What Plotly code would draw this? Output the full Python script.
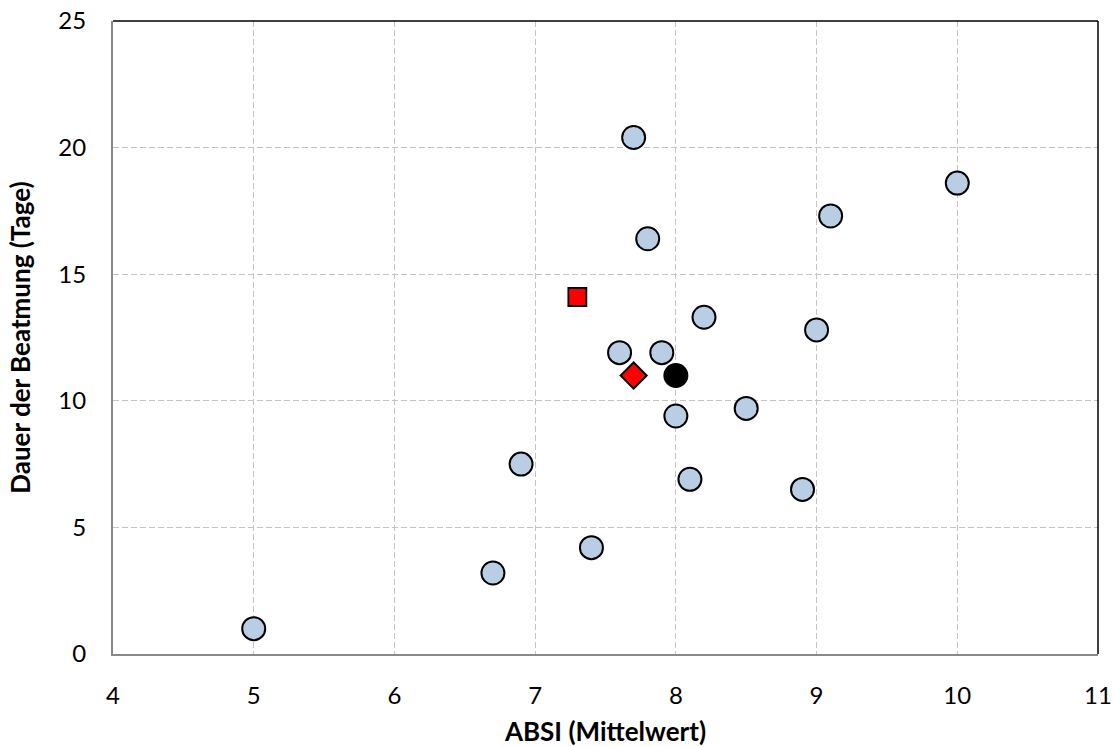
import plotly.graph_objects as go

abs_x = [5.0, 6.7, 6.9, 7.4, 7.6, 7.7, 7.8, 7.9, 8.0, 8.1, 8.2, 8.5, 8.9, 9.0, 9.1, 10.0]
dauer_y = [1.0, 3.2, 7.5, 4.2, 11.9, 20.4, 16.4, 11.9, 9.4, 6.9, 13.3, 9.7, 6.5, 12.8, 17.3, 18.6]
mean_x = [8.0]
mean_y = [11.0]
diamond_x = [7.7]
diamond_y = [11.0]
square_x = [7.3]
square_y = [14.1]

fig = go.Figure()
fig.add_trace(go.Scatter(x=abs_x, y=dauer_y, mode="markers",
    marker=dict(symbol="circle", size=23, color="#b9cde5", line=dict(color="black", width=2))))
fig.add_trace(go.Scatter(x=mean_x, y=mean_y, mode="markers",
    marker=dict(symbol="circle", size=23, color="black", line=dict(color="black", width=2))))
fig.add_trace(go.Scatter(x=diamond_x, y=diamond_y, mode="markers",
    marker=dict(symbol="diamond", size=20, color="red", line=dict(color="black", width=2))))
fig.add_trace(go.Scatter(x=square_x, y=square_y, mode="markers",
    marker=dict(symbol="square", size=18, color="red", line=dict(color="black", width=1.8))))

# top/right black border
fig.add_shape(type="line", xref="paper", yref="paper", x0=0, x1=1, y0=1, y1=1, line=dict(color="black", width=1.5))
fig.add_shape(type="line", xref="paper", yref="paper", x0=1, x1=1, y0=0, y1=1, line=dict(color="black", width=1.5))

fig.update_layout(
    width=1114, height=747,
    margin=dict(l=113, r=16, t=21, b=93),
    plot_bgcolor="white", paper_bgcolor="white",
    showlegend=False,
    font=dict(family="Lato, Carlito, sans-serif", size=24, color="black"),
    xaxis=dict(range=[4, 11], dtick=1, showgrid=True, gridcolor="#c4c4c4", griddash="6px,3px", gridwidth=1,
               showline=True, linecolor="#898989", linewidth=2, zeroline=False, ticks="",
               tickfont=dict(size=24), ticklabelstandoff=19, automargin=False,
               title=dict(text="<b>ABSI (Mittelwert)</b>", font=dict(size=26), standoff=16)),
    yaxis=dict(range=[0, 25], dtick=5, showgrid=True, gridcolor="#c4c4c4", griddash="6px,3px", gridwidth=1,
               showline=True, linecolor="#898989", linewidth=2, zeroline=False, ticks="",
               tickfont=dict(size=24), ticklabelstandoff=20, automargin=False,
               title=dict(text="<b>Dauer der Beatmung (Tage)</b>", font=dict(size=26), standoff=20)),
)
fig.write_html("out.html")
